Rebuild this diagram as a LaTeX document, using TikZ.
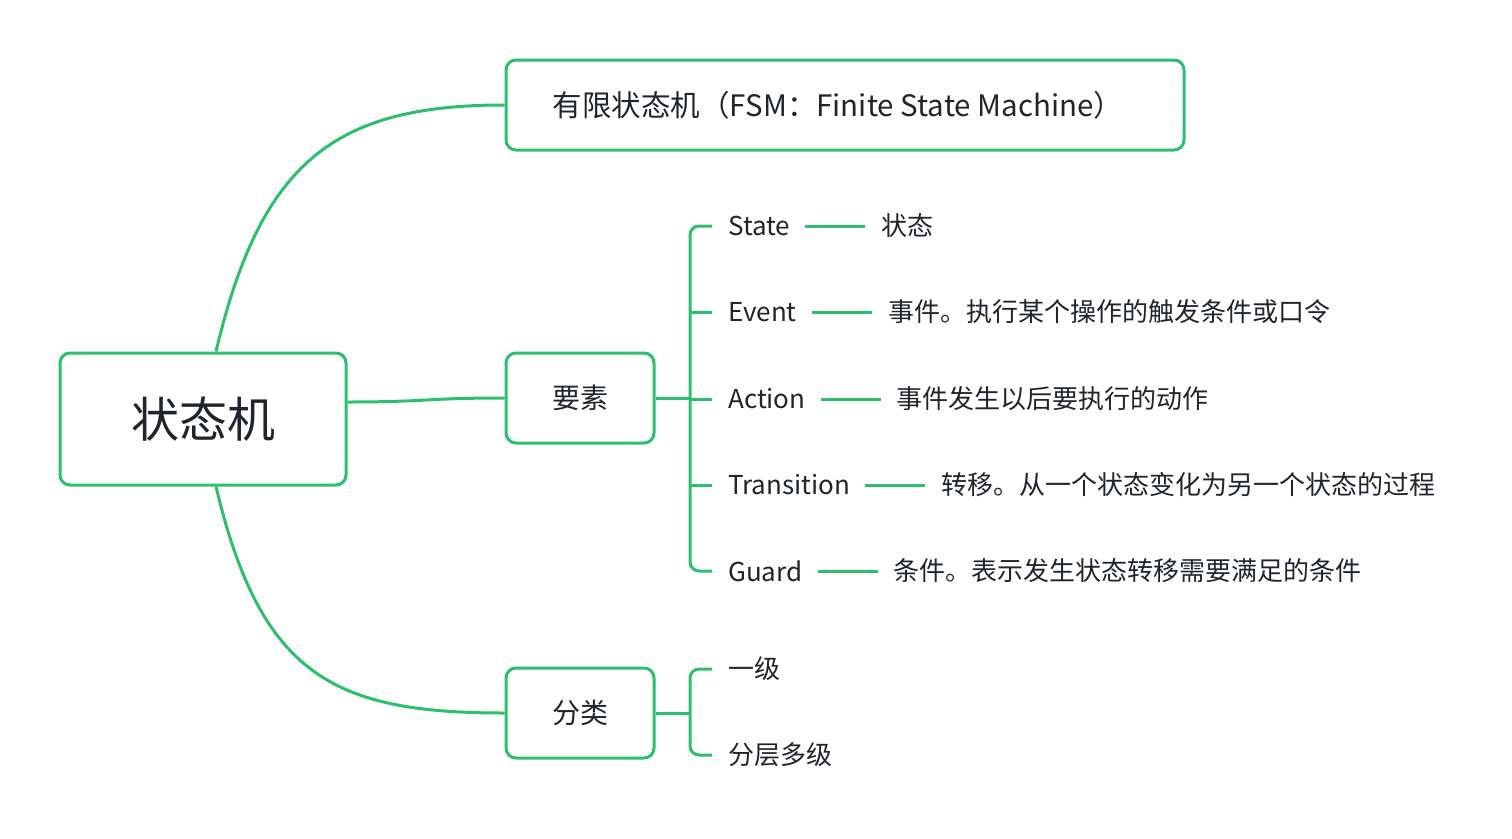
\documentclass[tikz,border=0pt]{standalone}
\usepackage{fontspec}
\setmainfont{Noto Sans CJK SC}
\usepackage{xcolor}
\usetikzlibrary{positioning,calc}

\begin{document}
\begin{tikzpicture}[x=1pt,y=-1pt]
	\definecolor{mmgreen}{RGB}{46,190,112}
	\definecolor{mmtext}{RGB}{33,37,41}
	\tikzset{
		topic/.style={
			draw=mmgreen,
			line width=3pt,
			rounded corners=10pt,
			text=mmtext,
			inner sep=0pt
		},
		link/.style={
			draw=mmgreen,
			line width=3pt
		},
		leaf/.style={
			text=mmtext,
			inner sep=0pt,
			font=\fontsize{26}{30}\selectfont
		}
	}
	\useasboundingbox (0,0) rectangle (1512,838);

	% ======= Nút gốc =======
	\node[topic, minimum width=286pt, minimum height=132pt,
		font=\fontsize{48}{56}\selectfont] (root) at (203,419) {状态机};

	% ======= Nhánh chính =======
	\node[topic, minimum width=678pt, minimum height=90pt,
		font=\fontsize{29.5}{34}\selectfont] (fsm) at (845,105)
		{\hspace*{-14pt}有限状态机（FSM：Finite State Machine）};
	\node[topic, minimum width=148pt, minimum height=90pt,
		font=\fontsize{28}{32}\selectfont] (yaosu) at (580,398) {要素};
	\node[topic, minimum width=148pt, minimum height=90pt,
		font=\fontsize{28}{32}\selectfont] (fenlei) at (580,713) {分类};

	\draw[link] ([xshift=13pt]root.north) .. controls +(45,-190) and +(-170,0) .. (fsm.west);
	\draw[link] ([yshift=17pt]root.east) .. controls +(80,0) and +(-80,0) .. (yaosu.west);
	\draw[link] ([xshift=13pt]root.south) .. controls +(45,190) and +(-170,0) .. (fenlei.west);

	% ======= Các yếu tố =======
	\node[leaf, anchor=west] (state) at (728,226) {State};
	\node[leaf, anchor=west] (event) at (728,312) {Event};
	\node[leaf, anchor=west] (action) at (728,399) {Action};
	\node[leaf, anchor=west] (trans) at (728,485) {Transition};
	\node[leaf, anchor=west] (guard) at (728,571) {Guard};

	\node[leaf, right=91pt of state] (stated) {状态};
	\node[leaf, right=91pt of event] (eventd) {事件。执行某个操作的触发条件或口令};
	\node[leaf, right=91pt of action] (actiond) {事件发生以后要执行的动作};
	\node[leaf, right=91pt of trans] (transd) {转移。从一个状态变化为另一个状态的过程};
	\node[leaf, right=91pt of guard] (guardd) {条件。表示发生状态转移需要满足的条件};

	\foreach \a in {state,event,action,trans,guard}
		\draw[link, shorten <=15pt, shorten >=16pt] (\a.east) -- (\a d.west);

	\coordinate (busa) at (690,398);
	\draw[link] (yaosu.east) -- (busa);
	\draw[link, rounded corners=9pt] ([xshift=-16pt]state.west) -| (busa)
		|- ([xshift=-16pt]guard.west);
	\draw[link] ([xshift=-16pt]event.west) -- (event.west -| busa);
	\draw[link] ([xshift=-16pt]action.west) -- (action.west -| busa);
	\draw[link] ([xshift=-16pt]trans.west) -- (trans.west -| busa);

	% ======= Phân loại =======
	\node[leaf, anchor=west] (lvone) at (728,669) {一级};
	\node[leaf, anchor=west] (lvmulti) at (728,755) {分层多级};

	\coordinate (busb) at (690,713);
	\draw[link] (fenlei.east) -- (busb);
	\draw[link, rounded corners=9pt] ([xshift=-16pt]lvone.west) -| (busb)
		|- ([xshift=-16pt]lvmulti.west);
\end{tikzpicture}
\end{document}
